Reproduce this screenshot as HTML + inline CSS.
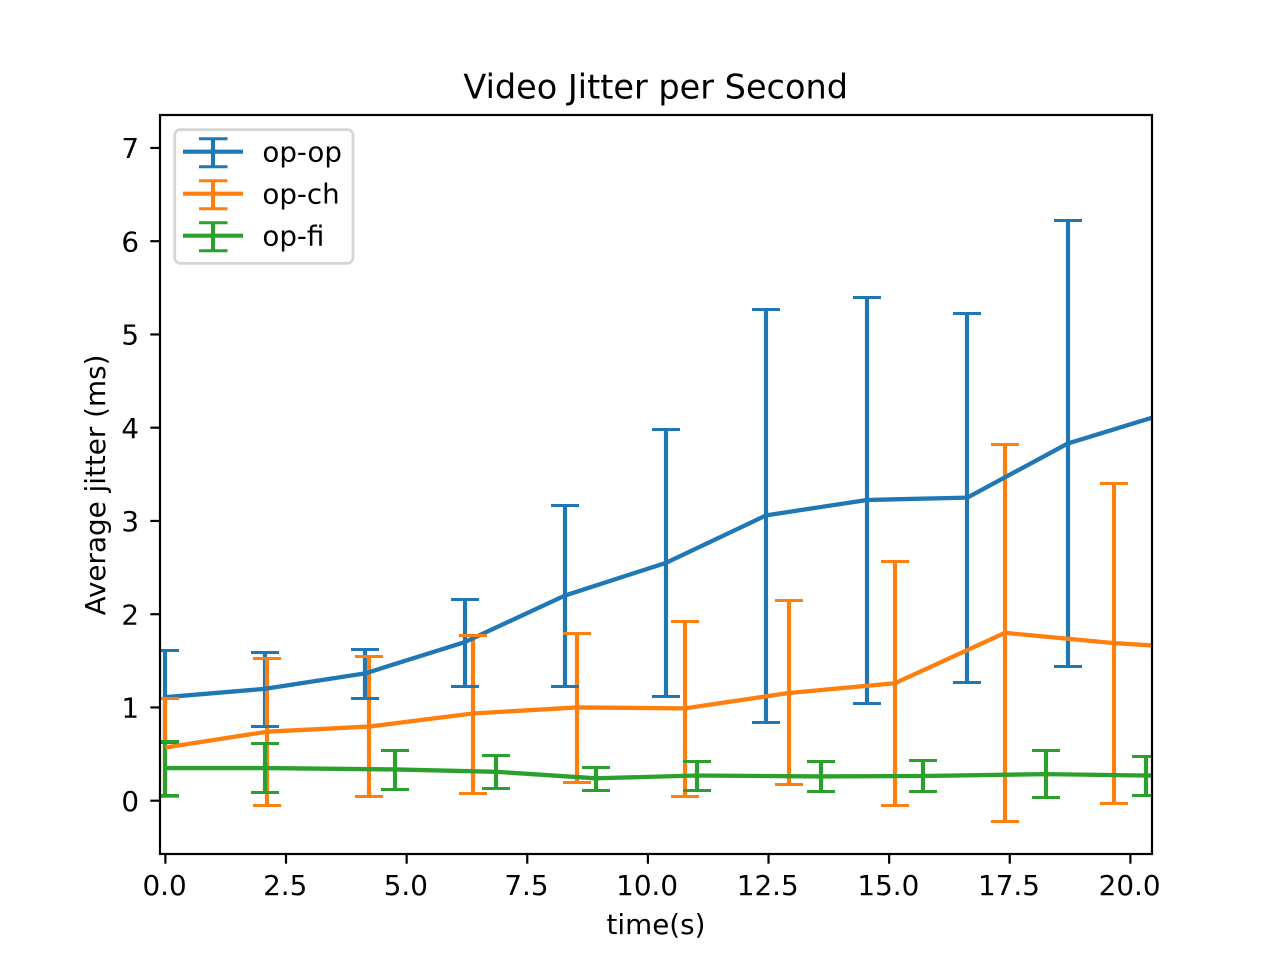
<!DOCTYPE html>
<html lang="en">
<head>
<meta charset="utf-8">
<title>Video Jitter per Second</title>
<style>
html,body{margin:0;padding:0;background:#fff;}
svg{display:block;}
text{font-family:"DejaVu Sans",sans-serif;fill:#000;}
</style>
</head>
<body>
<svg id="chart" xmlns="http://www.w3.org/2000/svg" width="1280" height="960" viewBox="0 0 1280 960">
  <defs><clipPath id="plot-clip"><rect x="160" y="115" width="992" height="739"/></clipPath></defs>
  <rect x="0" y="0" width="1280" height="960" fill="#fff"/>
  <g id="bars" clip-path="url(#plot-clip)"></g>
  <g id="lines" clip-path="url(#plot-clip)"></g>
  <rect x="160" y="115" width="992" height="739" fill="none" stroke="#000" stroke-width="2.2"/>
  <g id="ticks"></g>
  <text x="655.7" y="98.5" font-size="33.5" text-anchor="middle">Video Jitter per Second</text>
  <text x="656" y="934" font-size="27.8" text-anchor="middle">time(s)</text>
  <text x="105" y="485" font-size="27.8" text-anchor="middle" transform="rotate(-90 105 485)">Average jitter (ms)</text>
  <g id="legend">
    <rect x="174.7" y="129.7" width="178.3" height="133.6" rx="5.5" ry="5.5" fill="#fff" fill-opacity="0.8" stroke="#d6d6d6" stroke-width="2.8"/>
  </g>
</svg>
<script>
const seriesNames = ["op-op", "op-ch", "op-fi"];
const seriesColors = ["#1f77b4", "#ff7f0e", "#2ca02c"];

const opOpTime = [0, 2.07, 4.14, 6.2, 8.28, 10.37, 12.45, 14.54, 16.62, 18.7, 20.78];
const opOpMean = [1.11, 1.20, 1.365, 1.70, 2.20, 2.55, 3.06, 3.225, 3.25, 3.83, 4.16];
const opOpUpper = [1.61, 1.59, 1.62, 2.16, 3.17, 3.98, 5.27, 5.40, 5.22, 6.22, 6.40];
const opOpLower = [0.62, 0.80, 1.10, 1.22, 1.23, 1.12, 0.84, 1.04, 1.27, 1.44, 1.90];

const opChTime = [0, 2.11, 4.22, 6.37, 8.53, 10.77, 12.92, 15.12, 17.4, 19.66, 21.85];
const opChMean = [0.57, 0.74, 0.795, 0.935, 1.00, 0.99, 1.155, 1.26, 1.80, 1.69, 1.62];
const opChUpper = [1.10, 1.53, 1.55, 1.77, 1.79, 1.92, 2.15, 2.56, 3.82, 3.40, 3.30];
const opChLower = [0.04, -0.05, 0.04, 0.08, 0.19, 0.05, 0.17, -0.05, -0.22, -0.03, 0.00];

const opFiTime = [0, 2.07, 4.76, 6.85, 8.92, 11.02, 13.59, 15.7, 18.25, 20.33, 22.4];
const opFiMean = [0.35, 0.35, 0.335, 0.31, 0.24, 0.27, 0.26, 0.265, 0.285, 0.27, 0.27];
const opFiUpper = [0.63, 0.61, 0.54, 0.48, 0.36, 0.42, 0.42, 0.43, 0.54, 0.47, 0.45];
const opFiLower = [0.06, 0.09, 0.12, 0.13, 0.11, 0.11, 0.10, 0.10, 0.03, 0.06, 0.09];

const xTickValues = [0, 2.5, 5, 7.5, 10, 12.5, 15, 17.5, 20];
const xTickLabels = ["0.0", "2.5", "5.0", "7.5", "10.0", "12.5", "15.0", "17.5", "20.0"];
const yTickValues = [0, 1, 2, 3, 4, 5, 6, 7];
const yTickLabels = ["0", "1", "2", "3", "4", "5", "6", "7"];

const times = [opOpTime, opChTime, opFiTime];
const means = [opOpMean, opChMean, opFiMean];
const uppers = [opOpUpper, opChUpper, opFiUpper];
const lowers = [opOpLower, opChLower, opFiLower];

const NS = "http://www.w3.org/2000/svg";
function xScale(v) { return 165.4 + v * 48.25; }
function yScale(v) { return 800.7 - v * 93.25; }
function snapOdd(p) { return Math.floor(p) + 0.5; }

function make(tag, parent, attrs) {
  const el = document.createElementNS(NS, tag);
  for (const k in attrs) el.setAttribute(k, attrs[k]);
  parent.appendChild(el);
  return el;
}

const barsLayer = document.getElementById("bars");
const linesLayer = document.getElementById("lines");
const ticksLayer = document.getElementById("ticks");
const legendLayer = document.getElementById("legend");

seriesNames.forEach(function (name, s) {
  times[s].forEach(function (t, i) {
    const px = Math.round(xScale(t));
    const bar = make("line", barsLayer, {
      x1: px, x2: px, y1: yScale(uppers[s][i]), y2: yScale(lowers[s][i]),
      stroke: seriesColors[s], "stroke-width": 4.17
    });
    
    
  });
});

seriesNames.forEach(function (name, s) {
  const pts = times[s].map(function (t, i) {
    return xScale(t).toFixed(2) + "," + yScale(means[s][i]).toFixed(2);
  }).join(" ");
  const line = make("polyline", linesLayer, {
    points: pts, fill: "none", stroke: seriesColors[s], "stroke-width": 4.3, "stroke-linejoin": "round"
  });
  
  
  times[s].forEach(function (t, i) {
    [uppers[s][i], lowers[s][i]].forEach(function (v) {
      const py = snapOdd(yScale(v));
      const px = Math.round(xScale(t));
      const cap = make("line", linesLayer, {
        x1: px - 14, x2: px + 14, y1: py, y2: py,
        stroke: seriesColors[s], "stroke-width": 3
      });
      
      
    });
  });
});

xTickValues.forEach(function (v, i) {
  const tick = make("line", ticksLayer, {
    x1: xScale(v), x2: xScale(v), y1: 854, y2: 863.7, stroke: "#000", "stroke-width": 2.2
  });
  
  
  const label = make("text", ticksLayer, {
    x: xScale(v) - 0.8, y: 895, "font-size": 27.8, "text-anchor": "middle"
  });
  
  
  label.textContent = xTickLabels[i];
});

yTickValues.forEach(function (v, i) {
  const tick = make("line", ticksLayer, {
    x1: 150.3, x2: 160, y1: yScale(v), y2: yScale(v), stroke: "#000", "stroke-width": 2.2
  });
  
  
  const label = make("text", ticksLayer, {
    x: 139, y: yScale(v) + 10.2, "font-size": 27.8, "text-anchor": "end"
  });
  
  
  label.textContent = yTickLabels[i];
});

seriesNames.forEach(function (name, s) {
  const cy = 151.7 + s * 42;
  const group = make("g", legendLayer, {});
  
  
  make("line", group, { x1: 213, x2: 213, y1: cy - 13, y2: cy + 15, stroke: seriesColors[s], "stroke-width": 4.17 });
  make("line", group, { x1: 183, x2: 243, y1: cy, y2: cy, stroke: seriesColors[s], "stroke-width": 4.17 });
  make("line", group, { x1: 199, x2: 227.5, y1: cy - 13, y2: cy - 13, stroke: seriesColors[s], "stroke-width": 3 });
  make("line", group, { x1: 199, x2: 227.5, y1: cy + 15, y2: cy + 15, stroke: seriesColors[s], "stroke-width": 3 });
  const label = make("text", group, { x: 262.4, y: cy + 9.7, "font-size": 27.7 });
  
  
  label.textContent = name;
});
</script>
</body>
</html>
